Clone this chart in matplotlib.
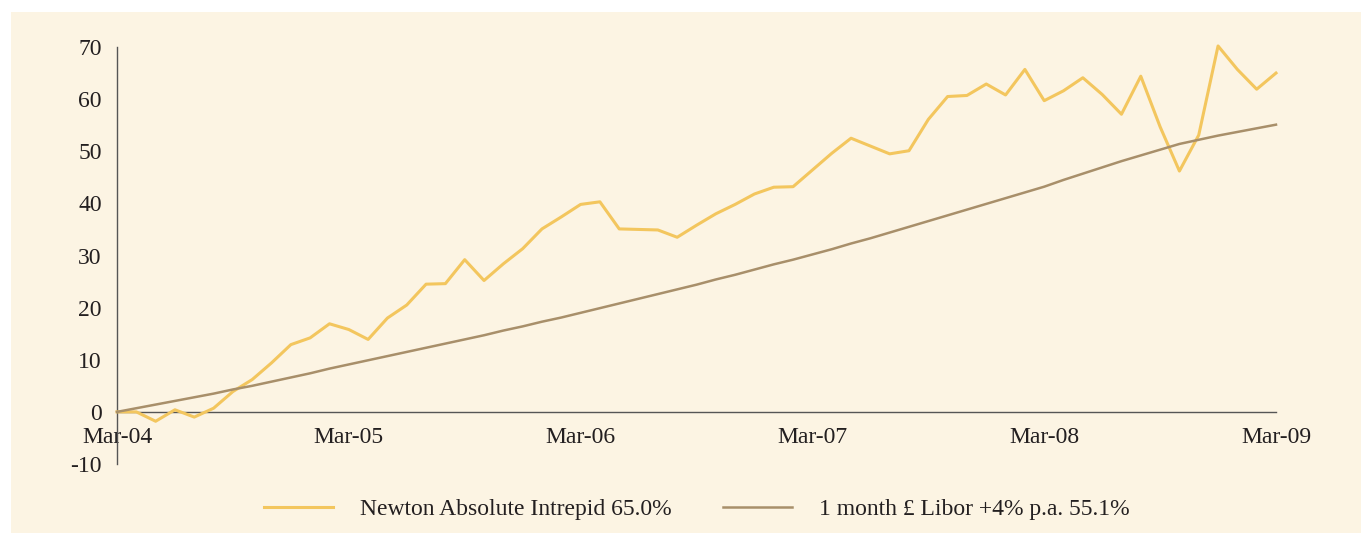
import matplotlib.pyplot as plt
from matplotlib.patches import Rectangle

# Monthly cumulative performance (%), Mar-04 .. Mar-09
months = list(range(61))
newton = [0.0, 0.0, -1.8, 0.4, -1.0, 0.7, 3.9, 6.2, 9.4, 12.9, 14.2, 16.9, 15.8,
          13.9, 18.0, 20.5, 24.5, 24.6, 29.2, 25.2, 28.4, 31.3, 35.1, 37.4, 39.8,
          40.3, 35.1, 35.0, 34.9, 33.5, 35.8, 38.0, 39.8, 41.8, 43.1, 43.2, 46.4,
          49.6, 52.5, 51.0, 49.5, 50.1, 56.1, 60.5, 60.7, 62.9, 60.8, 65.7, 59.7,
          61.6, 64.1, 60.9, 57.1, 64.4, 54.7, 46.2, 53.1, 70.2, 65.7, 61.9, 65.0]
libor = [0.0, 0.7, 1.4, 2.1, 2.8, 3.5, 4.3, 5.0, 5.8, 6.6, 7.4, 8.3, 9.1,
         9.9, 10.7, 11.5, 12.3, 13.1, 13.9, 14.7, 15.6, 16.4, 17.3, 18.1, 19.0,
         19.9, 20.8, 21.7, 22.6, 23.5, 24.4, 25.4, 26.3, 27.3, 28.3, 29.2, 30.2,
         31.2, 32.3, 33.3, 34.4, 35.5, 36.6, 37.7, 38.8, 39.9, 41.0, 42.1, 43.2,
         44.5, 45.7, 46.9, 48.1, 49.2, 50.3, 51.4, 52.2, 53.0, 53.7, 54.4, 55.1]
tick_pos = [0, 12, 24, 36, 48, 60]
tick_labels = ['Mar-04', 'Mar-05', 'Mar-06', 'Mar-07', 'Mar-08', 'Mar-09']
y_ticks = [-10, 0, 10, 20, 30, 40, 50, 60, 70]

cream = '#fcf4e3'
yellow = '#f3c65e'
tan = '#a88f6a'
text_col = '#231f20'

plt.rcParams['font.family'] = 'Liberation Serif'
plt.rcParams['axes.unicode_minus'] = False

fig = plt.figure(figsize=(13.61, 5.33), dpi=100)
fig.patches.append(Rectangle((11 / 1361, 0), 1, 1 - 12 / 533, transform=fig.transFigure,
                             facecolor=cream, edgecolor='none', zorder=-10))

ax = fig.add_axes([117 / 1361, 1 - 464 / 533, 1159 / 1361, 417 / 533])
ax.set_facecolor('none')

ax.plot(months, newton, color=yellow, lw=2.2, clip_on=False, zorder=3,
        label='Newton Absolute Intrepid 65.0%')
ax.plot(months, libor, color=tan, lw=1.8, clip_on=False, zorder=4,
        label='1 month \u00a3 Libor +4% p.a. 55.1%')

ax.set_xlim(0, 60)
ax.set_ylim(-10, 70)
ax.set_xticks(tick_pos)
ax.set_xticklabels(tick_labels)
ax.set_yticks(y_ticks)

ax.spines['top'].set_visible(False)
ax.spines['right'].set_visible(False)
ax.spines['bottom'].set_position(('data', 0))
for s in ['left', 'bottom']:
    ax.spines[s].set_color('#555555')
    ax.spines[s].set_linewidth(1.0)

ax.tick_params(axis='x', length=0, pad=11, labelsize=17, labelcolor=text_col)
ax.tick_params(axis='y', length=0, pad=11, labelsize=17, labelcolor=text_col)

fig.legend(loc='center', bbox_to_anchor=(697 / 1361, 1 - 509 / 533), ncol=2,
           frameon=False, fontsize=17, handlelength=2.92, handletextpad=1.15,
           columnspacing=2.15, labelcolor=text_col)

fig.savefig('out.png', dpi=100, facecolor='white')
